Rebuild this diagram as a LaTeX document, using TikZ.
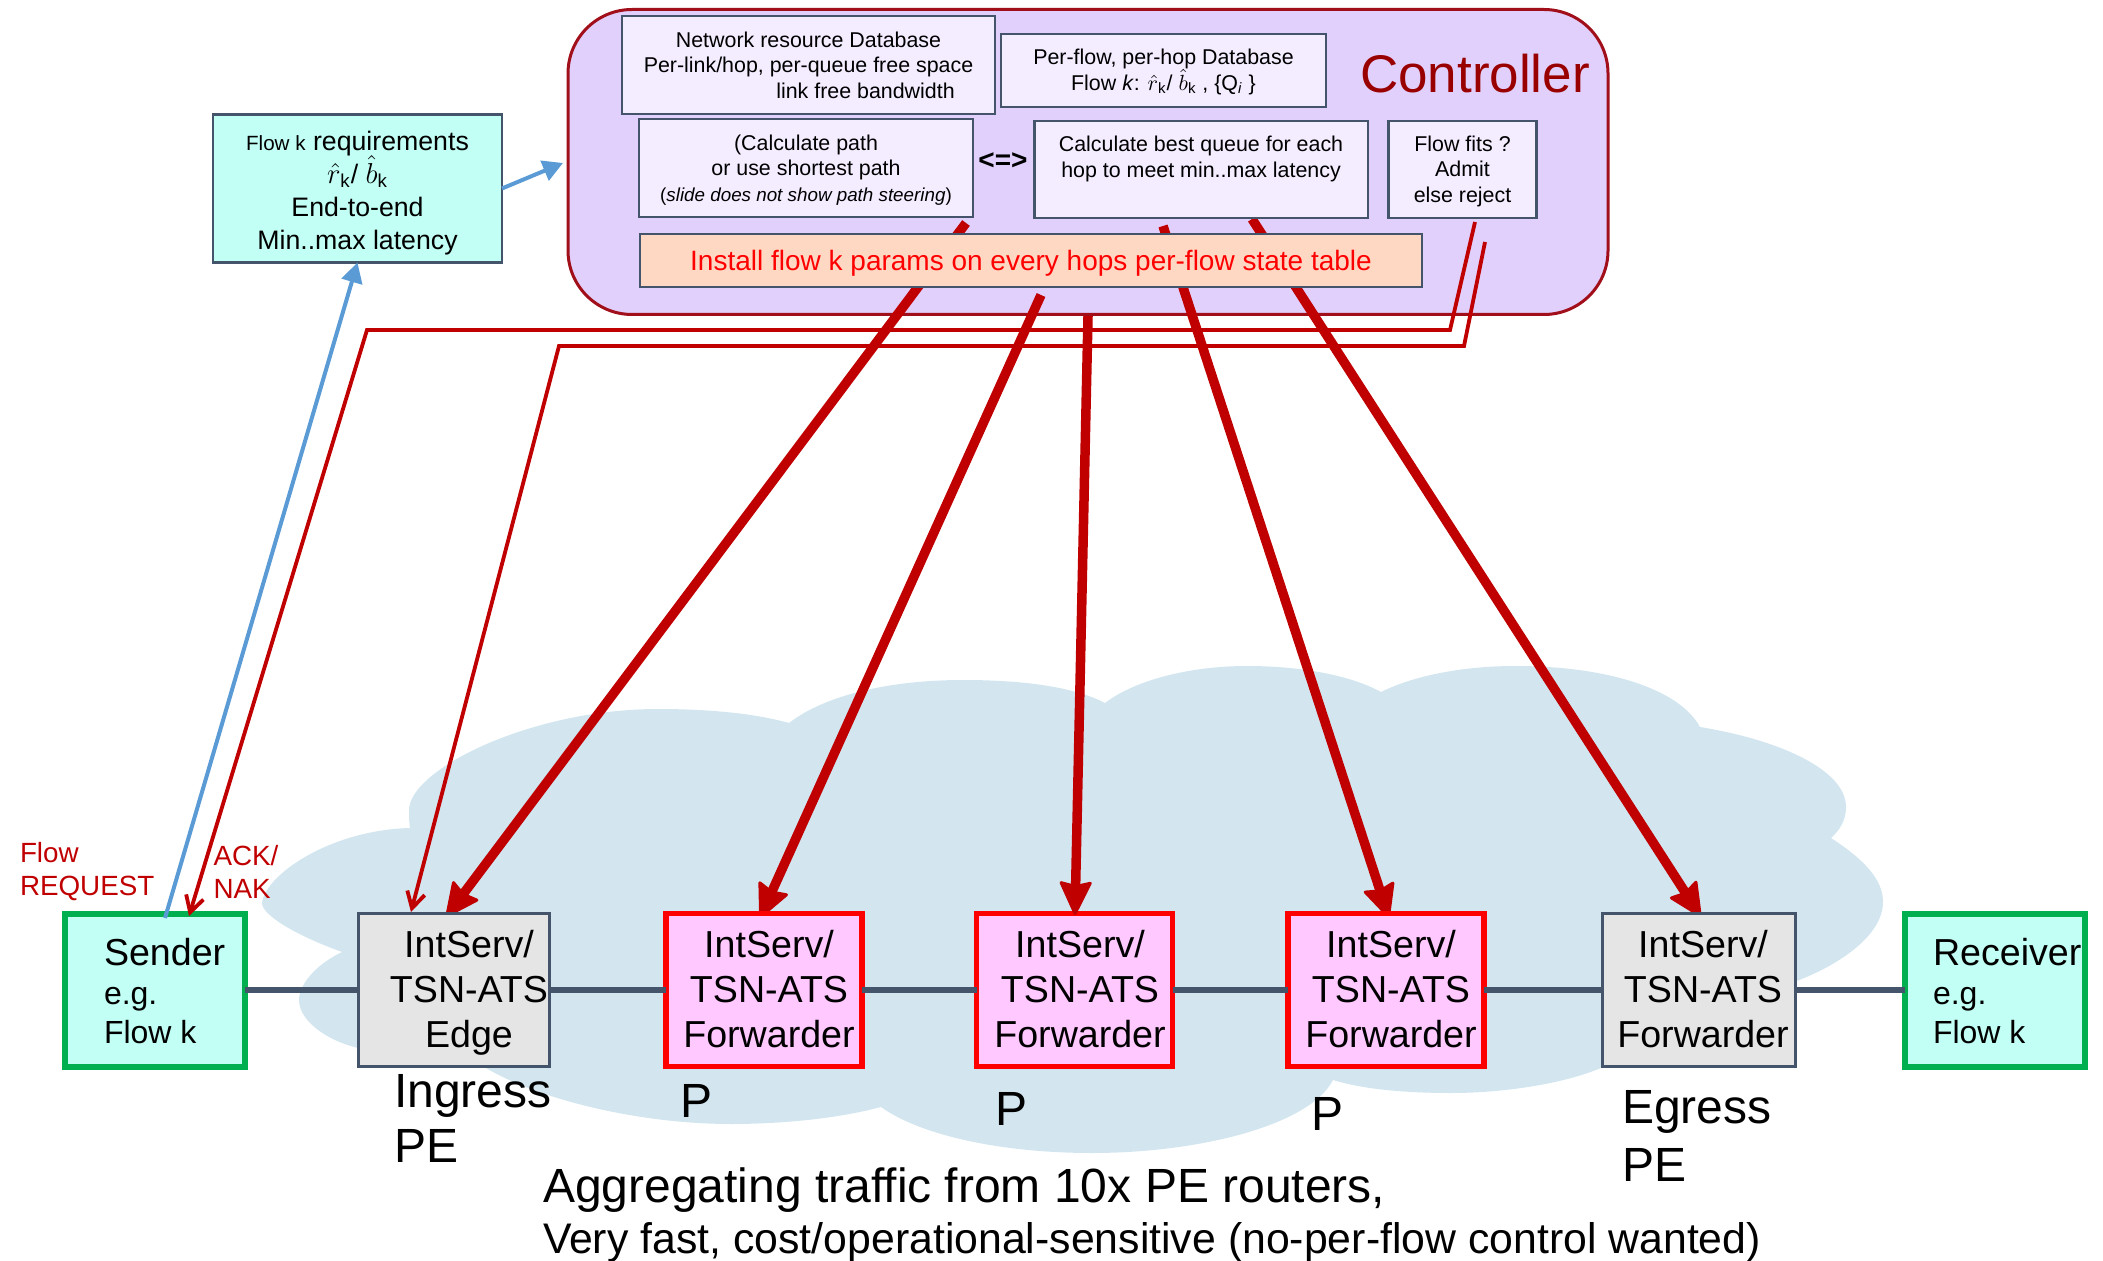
\documentclass[tikz,border=0pt]{standalone}
\usepackage{fontspec}
\setmainfont{Liberation Sans}
\usetikzlibrary{arrows.meta}
\definecolor{cloudblue}{HTML}{D3E6F0}
\definecolor{ctrlfill}{HTML}{E2D0FC}
\definecolor{ctrlline}{HTML}{A00F1A}
\definecolor{ctrltext}{HTML}{990000}
\definecolor{innerfill}{HTML}{F4ECFF}
\definecolor{slateline}{HTML}{44546A}
\definecolor{darkred}{HTML}{C00000}
\definecolor{hopgreen}{HTML}{00B050}
\definecolor{aqua}{HTML}{C2FFF5}
\definecolor{pinkfill}{HTML}{FFC8FF}
\definecolor{greyfill}{HTML}{E5E5E5}
\definecolor{peach}{HTML}{FFD8C4}
\definecolor{skyline}{HTML}{5B9BD5}
% first baseline placed at dx,dy (picture pixels) from the node centre
\newcommand{\ctxt}[5]{\makebox[0pt][c]{\hspace*{#1pt}\raisebox{-#2\dimexpr.5pt\relax}[0pt][0pt]{\fontsize{#3}{#4}\selectfont\def\arraystretch{1}\begin{tabular}[t]{@{}c@{}}#5\end{tabular}}}}
\newcommand{\ltxt}[5]{\makebox[0pt][l]{\hspace*{#1\dimexpr.5pt\relax}\raisebox{-#2\dimexpr.5pt\relax}[0pt][0pt]{\fontsize{#3}{#4}\selectfont\def\arraystretch{1}\begin{tabular}[t]{@{}l@{}}#5\end{tabular}}}}
\newcommand{\smallline}[1]{{\fontsize{16}{16.5}\selectfont #1}}
\tikzset{
  base/.style={rectangle,inner sep=0pt,outer sep=0pt},
  free/.style={base},
  inbox/.style={base,draw=slateline,line width=1.25pt,fill=innerfill},
  hopgrey/.style={base,draw=slateline,line width=1.5pt,fill=greyfill,minimum height=76.5pt},
  hoppink/.style={base,draw=red,line width=2.75pt,fill=pinkfill,minimum width=98pt,minimum height=76.5pt},
  endhost/.style={base,draw=hopgreen,line width=3pt,fill=aqua,minimum width=90pt,minimum height=76.5pt},
  thickred/.style={draw=darkred,line width=4.75pt,-{Stealth[length=18pt,width=17pt,inset=2pt,round,line width=1.5pt]}},
  thinred/.style={draw=darkred,line width=1.9pt,line join=miter,-{Straight Barb[length=8pt,width=9pt]}},
  skyarrow/.style={draw=skyline,line width=2pt,-{Triangle[length=10pt,width=10.5pt]}},
  linkline/.style={draw=slateline,line width=3.25pt}
}
\begin{document}
\begin{tikzpicture}[x=0.5pt,y=-0.5pt]
\useasboundingbox (0,0) rectangle (2103,1261);
% cloud
\fill[cloudblue] (342,952) .. controls (295,935) and (262,915) .. (262,903)
  .. controls (265,875) and (330,830) .. (410,828)
  .. controls (409,822) and (409,816) .. (409,810)
  .. controls (409,770) and (530,709) .. (658,709)
  .. controls (700,709) and (750,712) .. (789,723)
  .. controls (825,695) and (890,680) .. (963,680)
  .. controls (1015,680) and (1070,685) .. (1105,703)
  .. controls (1135,680) and (1190,666) .. (1247,666)
  .. controls (1300,666) and (1350,675) .. (1381,692)
  .. controls (1415,675) and (1465,666) .. (1515,666)
  .. controls (1610,666) and (1680,690) .. (1700,727)
  .. controls (1780,740) and (1846,770) .. (1846,807)
  .. controls (1846,820) and (1840,830) .. (1831,838)
  .. controls (1865,860) and (1883,880) .. (1883,902)
  .. controls (1883,935) and (1840,965) .. (1794,982)
  .. controls (1760,1020) and (1650,1060) .. (1601,1068)
  .. controls (1560,1085) and (1500,1093) .. (1451,1093)
  .. controls (1410,1093) and (1365,1090) .. (1333,1080)
  .. controls (1310,1125) and (1200,1153) .. (1092,1153)
  .. controls (1000,1153) and (920,1135) .. (881,1107)
  .. controls (840,1118) and (785,1124) .. (731,1124)
  .. controls (640,1124) and (540,1100) .. (486,1068)
  -- (358,1048)
  .. controls (325,1040) and (299,1020) .. (299,1000)
  .. controls (299,985) and (315,965) .. (342,952) -- cycle;
% controller
\node[base,draw=ctrlline,line width=1.5pt,fill=ctrlfill,rounded corners=32pt,minimum width=520pt,minimum height=152.5pt] (ctrl) at (1088,162)
  {\ctxt{387}{-69}{26.5}{30}{\textcolor{ctrltext}{Controller}}};
% connector ends
\coordinate (t1) at (966,223); \coordinate (h1) at (446,917);
\coordinate (t2) at (1041,295); \coordinate (h2) at (760,918);
\coordinate (t3) at (1088,316); \coordinate (h3) at (1075,915);
\coordinate (t4) at (1163,226); \coordinate (h4) at (1389,918);
\coordinate (t5) at (1252,219); \coordinate (h5) at (1701,917);
\coordinate (ack0) at (1475,222); \coordinate (ack1) at (1450,330); \coordinate (ack2) at (367,330); \coordinate (ackh) at (189,916);
\coordinate (nak0) at (1485,242); \coordinate (nak1) at (1464,346); \coordinate (nak2) at (559,346); \coordinate (nakh) at (411,912);
\coordinate (reqtail) at (165,918); \coordinate (ctrlin) at (563,163);
% thick arrows under the boxes
\draw[thickred] (t1) -- (h1);
\draw[thickred] (t2) -- (h2);
\draw[thickred] (t4) -- (h4);
\draw[thickred] (t5) -- (h5);
% controller contents
\node[inbox,minimum width=186.5pt,minimum height=49pt] (netdb) at (808.5,65)
  {\ctxt{0}{-17.5}{10.7}{12.75}{Network resource Database\\Per-link/hop, per-queue free space\\\hspace*{57pt}link free bandwidth}};
\node[inbox,minimum width=162.5pt,minimum height=36.5pt] (flowdb) at (1163.5,70.5)
  {\ctxt{0}{-5.5}{10.7}{12.75}{Per-flow, per-hop Database\\Flow \textit{k}: \smash{$\hat{r}$}\textsubscript{k}/ \smash{$\hat{b}$}\textsubscript{k} , \{Q\textsubscript{\textit{i}} \}}};
\node[inbox,minimum width=167pt,minimum height=49pt] (calcpath) at (806,168)
  {\ctxt{0}{-17.5}{10.7}{12.75}{(Calculate path\\or use shortest path\\{\fontsize{9.4}{10}\selectfont(\textit{slide does not show path steering})}}};
\node[free] (equiv) at (1003,165) {\ctxt{0}{5}{14}{16}{\textbf{<=>}}};
\node[inbox,minimum width=166.75pt,minimum height=48.5pt] (calcq) at (1201,169.5)
  {\ctxt{0}{-18}{10.7}{13}{Calculate best queue for each\\hop to meet min..max latency}};
\node[inbox,minimum width=74pt,minimum height=48.5pt] (fits) at (1462.5,169.5)
  {\ctxt{0}{-18}{10.7}{12.75}{Flow fits ?\\Admit\\else reject}};
\node[inbox,fill=peach,minimum width=391pt,minimum height=26.5pt] (install) at (1031,260.5)
  {\ctxt{0}{10.5}{14}{15.5}{\textcolor{red}{Install flow k params on every hops per-flow state table}}};
% requirements
\node[base,draw=slateline,line width=1.25pt,fill=aqua,minimum width=144.5pt,minimum height=74pt] (req) at (357.5,188.5)
  {\ctxt{0}{-38}{13.35}{16.5}{{\fontsize{10.3}{12}\selectfont Flow k} requirements\\\smash{$\hat{r}$}\textsubscript{k}/ \smash{$\hat{b}$}\textsubscript{k}\\End-to-end\\Min..max latency}};
% hops
\node[endhost] (sender) at (155,990)
  {\ltxt{-51}{-25}{18.8}{19.5}{Sender\\\smallline{e.g.}\\\smallline{Flow k}}};
\node[hopgrey,minimum width=95.5pt] (ingress) at (454,990)
  {\ctxt{15}{-33}{18.8}{22.5}{IntServ/\\TSN-ATS\\Edge}};
\node[hoppink] (fone) at (764,990)
  {\ctxt{5}{-33}{18.8}{22.5}{IntServ/\\TSN-ATS\\Forwarder}};
\node[hoppink] (ftwo) at (1074.5,990)
  {\ctxt{5.5}{-33}{18.8}{22.5}{IntServ/\\TSN-ATS\\Forwarder}};
\node[hoppink] (fthree) at (1386,990)
  {\ctxt{5}{-33}{18.8}{22.5}{IntServ/\\TSN-ATS\\Forwarder}};
\node[hopgrey,minimum width=96.5pt] (egress) at (1699,990)
  {\ctxt{4}{-33}{18.8}{22.5}{IntServ/\\TSN-ATS\\Forwarder}};
\node[endhost] (receiver) at (1995,990)
  {\ltxt{-62}{-25}{18.8}{19.5}{Receiver\\\smallline{e.g.}\\\smallline{Flow k}}};
\draw[linkline] (sender) -- (ingress);
\draw[linkline] (ingress) -- (fone);
\draw[linkline] (fone) -- (ftwo);
\draw[linkline] (ftwo) -- (fthree);
\draw[linkline] (fthree) -- (egress);
\draw[linkline] (egress) -- (receiver);
% arrows over the boxes
\draw[thickred] (t3) -- (h3);
\draw[thinred] (ack0) -- (ack1) -- (ack2) -- (ackh);
\draw[thinred] (nak0) -- (nak1) -- (nak2) -- (nakh);
\draw[skyarrow] (reqtail) -- (req.south);
\draw[skyarrow] (req.east) -- (ctrlin);
% free labels
\node[free] (lreq) at (20,862) {\ltxt{0}{0}{13.9}{16.5}{\textcolor{darkred}{Flow}\\\textcolor{darkred}{REQUEST}}};
\node[free] (lack) at (213.5,865) {\ltxt{0}{0}{13.9}{16.5}{\textcolor{darkred}{ACK/}\\\textcolor{darkred}{NAK}}};
\node[free] (lingress) at (394,1107) {\ltxt{0}{0}{24}{27.5}{Ingress\\PE}};
\node[free] (lpone) at (680,1117) {\ltxt{0}{0}{24}{27.5}{P}};
\node[free] (lptwo) at (995,1125) {\ltxt{0}{0}{24}{27.5}{P}};
\node[free] (lpthree) at (1311,1130) {\ltxt{0}{0}{24}{27.5}{P}};
\node[free] (legress) at (1622,1123) {\ltxt{0}{0}{24}{29}{Egress\\PE}};
\node[free] (lagg) at (543,1202) {\ltxt{0}{0}{24}{25.5}{Aggregating traffic from 10x PE routers,}};
\node[free] (lfast) at (543,1253) {\ltxt{0}{0}{21.4}{25.5}{Very fast, cost/operational-sensitive (no-per-flow control wanted)}};
\end{tikzpicture}
\end{document}
